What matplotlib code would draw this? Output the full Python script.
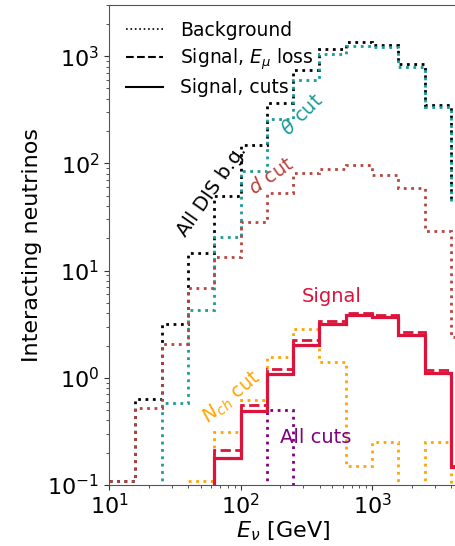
import numpy as np
import matplotlib
matplotlib.use("Agg")
import matplotlib.pyplot as plt

# energy bins (GeV), 0.2 decades wide
edges = np.logspace(1.0, 3.8, 15)

# events per bin
background = [0.11, 0.64, 3.2, 14.5, 50, 148, 368, 738, 1175, 1343, 1277, 838, 350, 46]
theta_cut = [0, 0, 0.58, 4.3, 20.5, 84, 257, 600, 1050, 1250, 1210, 796, 333, 44]
d_cut = [0.11, 0.52, 2.06, 6.95, 13.5, 28.6, 53.3, 82, 88.7, 96.7, 78, 58.6, 23.4, 2.4]
nch_cut = [0, 0, 0, 0.11, 0.31, 0.62, 1.56, 2.86, 1.40, 0.149, 0.25, 0, 0.25, 0]
all_cuts = [0, 0, 0, 0, 0, 0, 0.50, 0, 0, 0, 0, 0, 0, 0]
signal_eloss = [0, 0, 0, 0, 0.21, 0.56, 1.22, 2.26, 3.42, 4.06, 3.87, 2.67, 1.17, 0.15]
signal_cuts = [0, 0, 0, 0, 0.178, 0.485, 1.09, 2.03, 3.19, 3.87, 3.68, 2.52, 1.12, 0.148]

c_theta = "#1a9a9a"
c_d = "#b8433f"
c_nch = "orange"
c_all = "purple"
c_sig = "crimson"

plt.rcParams["font.family"] = "DejaVu Sans"
fig = plt.figure(figsize=(4.55, 5.46), dpi=100)
# the right spine sits just past the picture edge, as in the original crop
ax = fig.add_axes([109 / 455, 1 - 485 / 546, 348 / 455, 480 / 546])

ax.stairs(background, edges, baseline=0, color="black", ls=":", lw=2)
ax.stairs(theta_cut, edges, baseline=0, color=c_theta, ls=":", lw=2)
ax.stairs(d_cut, edges, baseline=0, color=c_d, ls=":", lw=2)
ax.stairs(nch_cut, edges, baseline=0, color=c_nch, ls=":", lw=2)
ax.stairs(all_cuts, edges, baseline=0, color=c_all, ls=":", lw=2)
ax.stairs(signal_eloss, edges, baseline=0, color=c_sig, ls="--", lw=2)
ax.stairs(signal_cuts, edges, baseline=0, color=c_sig, ls="-", lw=2.3)

ax.set_xscale("log")
ax.set_yscale("log")
ax.set_xlim(10, 10 ** 3.646)
ax.set_ylim(0.1, 3000)

# legend with black proxy lines
ax.plot([], [], color="black", ls=":", lw=1.2, label="Background")
ax.plot([], [], color="black", ls="--", lw=1.5, label=r"Signal, $E_\mu$ loss")
ax.plot([], [], color="black", ls="-", lw=1.5, label="Signal, cuts")
ax.legend(loc="upper left", frameon=False, fontsize=13.5,
          bbox_to_anchor=(0.01, 0.995), borderaxespad=0.3, labelspacing=0.35,
          handletextpad=0.9)

ax.text(61, 56, "All DIS b.g.", color="black", fontsize=14, rotation=55,
        ha="center", va="center")
ax.text(294, 282, r"$\theta$ cut", color=c_theta, fontsize=14, rotation=45,
        ha="center", va="center")
ax.text(171, 75, r"$d$ cut", color=c_d, fontsize=14, rotation=35,
        ha="center", va="center")
ax.text(86, 0.65, r"$N_{ch}$ cut", color=c_nch, fontsize=14, rotation=40,
        ha="center", va="center")
ax.text(375, 0.28, "All cuts", color=c_all, fontsize=14,
        ha="center", va="center")
ax.text(497, 5.7, "Signal", color=c_sig, fontsize=14,
        ha="center", va="center")

ax.set_xlabel(r"$E_\nu$ [GeV]", fontsize=16, labelpad=1)
ax.set_ylabel("Interacting neutrinos", fontsize=16)
ax.tick_params(labelsize=16, colors="#333333", labelcolor="black")
ax.tick_params(axis="x", pad=2)
ax.tick_params(which="minor", colors="#333333")
for s in ax.spines.values():
    s.set_color("#555555")

fig.savefig("out.png", dpi=100)
